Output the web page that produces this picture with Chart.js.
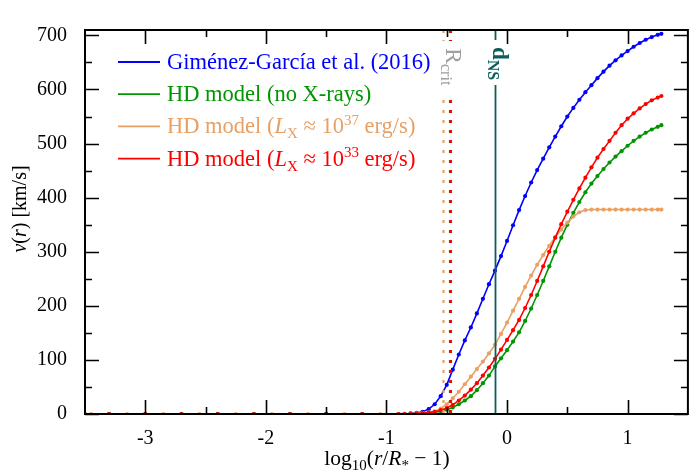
<!DOCTYPE html>
<html>
<head>
<meta charset="utf-8">
<script src="https://cdn.jsdelivr.net/npm/chart.js@4.4.1/dist/chart.umd.min.js"></script>
<style>
  html, body { margin: 0; padding: 0; background: #fff; }
  #wrap { width: 690px; height: 471px; }
</style>
</head>
<body>
<div id="wrap"><canvas id="velChart" width="690" height="471"></canvas></div>
<script>
// --- DATA ---
// x = log10(r/R* - 1), v in km/s
const xGrid = [-0.9, -0.85, -0.8, -0.75, -0.7, -0.65, -0.6, -0.55, -0.5, -0.45,
  -0.4, -0.35, -0.3, -0.25, -0.2, -0.15, -0.1, -0.05, 0, 0.05,
  0.1, 0.15, 0.2, 0.25, 0.3, 0.35, 0.4, 0.45, 0.5, 0.55,
  0.6, 0.65, 0.7, 0.75, 0.8, 0.85, 0.9, 0.95, 1.0, 1.05,
  1.1, 1.15, 1.2, 1.25, 1.28];

const vGimenez = [0, 0.5, 1, 2, 4, 9, 18, 33, 54, 82,
  110, 136, 160, 186, 213, 240, 265, 292, 320, 349,
  377, 403, 428, 451, 472, 493, 513, 532, 550, 566,
  581, 595, 608, 621, 633, 644, 654, 663, 671, 679,
  686, 692, 697, 701, 703];

const vNoXrays = [0, 0, 0.3, 0.6, 1, 2, 3, 5, 8, 12,
  18, 25, 33, 44, 57, 71, 88, 103, 118, 134,
  151, 172, 195, 220, 246, 273, 300, 326, 350, 372,
  392, 410, 426, 440, 453, 465, 476, 486, 496, 505,
  513, 520, 526, 531, 534];

const vLx37 = [0, 0.3, 0.6, 1.2, 2, 3, 5, 10, 18, 29,
  41, 55, 69, 83, 97, 112, 128, 148, 169, 191,
  213, 235, 256, 276, 294, 311, 327, 341, 354, 365,
  373, 377, 378, 378, 378, 378, 378, 378, 378, 378,
  378, 378, 378, 378, 378];

const vLx33 = [0, 0, 0.3, 0.7, 1.5, 2.5, 4, 7, 11, 17,
  25, 34, 45, 57, 71, 86, 102, 119, 137, 155,
  174, 196, 220, 246, 273, 300, 326, 351, 374, 396,
  417, 437, 456, 474, 490, 505, 520, 534, 546, 556,
  565, 573, 580, 585, 588];

// flat part of the profiles, close to the stellar surface
const xFlat = [-3.3, -3.0, -2.7, -2.4, -2.1, -1.8, -1.5, -1.2];
const vFlat = [0, 0, 0, 0, 0, 0, 0, 0];
const xFlatGreen = [-3.5, -3.3, -3.0, -2.7, -2.4, -2.1, -1.8, -1.5, -1.2];
const vFlatGreen = [0, 0, 0, 0, 0, 0, 0, 0, 0];
const xFlatOrange = [-3.5, -3.45, -3.15, -2.85, -2.55, -2.25, -1.95, -1.65, -1.35, -1.05];
const vFlatOrange = [0, 0, 0, 0, 0, 0, 0, 0, 0, 0];

// vertical markers
const rCritLx37 = -0.53;
const rCritLx33 = -0.47;
const dNS = -0.10;

// axes
const xTicks = [-3, -2, -1, 0, 1];
const xMinorTicks = [-2.5, -1.5, -0.5, 0.5];
const yTicks = [0, 100, 200, 300, 400, 500, 600, 700];
const yMinorTicks = [50, 150, 250, 350, 450, 550, 650];

const BLUE = '#0000ff';
const GREEN = '#009600';
const ORANGE = '#e8a064';
const RED = '#ff0000';
const TEAL = '#0e5c5c';
const GREY = '#a0a0a0';
const FONT = '"Liberation Serif", "Times New Roman", serif';

const toPts = (xs, vs) => xs.map((x, i) => ({ x: x, y: vs[i] }));

function series(label, xsFlat, vsFlat, vs, color, order) {
    return {
        label: label,
        data: toPts(xsFlat, vsFlat).concat(toPts(xGrid, vs)),
        borderColor: color,
        backgroundColor: color,
        borderWidth: 1.6,
        pointRadius: 2.1,
        pointBorderWidth: 0,
        pointHoverRadius: 0,
        showLine: true,
        order: order
    };
}

// --- rich text (italic / sub / sup) on the canvas ---
function runFont(r, size) {
    const s = (r.sub || r.sup) ? Math.round(size * 0.68) : size;
    return (r.it ? 'italic ' : '') + (r.bold ? 'bold ' : '') + s + 'px ' + FONT;
}

function drawRich(ctx, runs, x, y, size, color, align) {
    ctx.save();
    ctx.fillStyle = color;
    ctx.textBaseline = 'alphabetic';
    ctx.textAlign = 'left';
    let w = 0;
    runs.forEach(r => { ctx.font = runFont(r, size); w += ctx.measureText(r.t).width; });
    let cx = align === 'center' ? x - w / 2 : x;
    runs.forEach(r => {
        ctx.font = runFont(r, size);
        const dy = r.sub ? size * 0.22 : (r.sup ? -size * 0.38 : 0);
        ctx.fillText(r.t, cx, y + dy);
        cx += ctx.measureText(r.t).width;
    });
    ctx.restore();
}

const legendRows = [
    { color: BLUE, runs: [{ t: 'Giménez-García et al. (2016)' }] },
    { color: GREEN, runs: [{ t: 'HD model (no X-rays)' }] },
    { color: ORANGE, runs: [{ t: 'HD model (' }, { t: 'L', it: true }, { t: 'X', sub: true },
        { t: ' \u2248 10' }, { t: '37', sup: true }, { t: ' erg/s)' }] },
    { color: RED, runs: [{ t: 'HD model (' }, { t: 'L', it: true }, { t: 'X', sub: true },
        { t: ' \u2248 10' }, { t: '33', sup: true }, { t: ' erg/s)' }] }
];

const framePlugin = {
    id: 'frame',
    afterDatasetsDraw(chart) {
        const ctx = chart.ctx;
        const a = chart.chartArea;
        const xs = chart.scales.x;

        // vertical reference lines
        const vline = (xv, color, width, dash) => {
            const px = Math.round(xs.getPixelForValue(xv)) + 0.5;
            ctx.save();
            ctx.strokeStyle = color;
            ctx.lineWidth = width;
            ctx.setLineDash(dash);
            ctx.beginPath();
            ctx.moveTo(px, a.top);
            ctx.lineTo(px, a.bottom);
            ctx.stroke();
            ctx.restore();
        };
        vline(rCritLx37, ORANGE, 2.2, [3, 7]);
        vline(rCritLx33, GREEN, 3.2, [3, 7]);
        vline(rCritLx33, RED, 2.2, [3, 7]);
        vline(dNS, TEAL, 1.8, []);

        // labels on the lines (white box behind, text rotated downwards)
        const rLabelX = xs.getPixelForValue(rCritLx33);
        const dLabelX = xs.getPixelForValue(dNS);
        ctx.save();
        ctx.fillStyle = '#fff';
        ctx.fillRect(rLabelX - 12, a.top + 11, 28, 52);
        ctx.fillRect(dLabelX - 10, a.top + 10, 28, 45);
        ctx.restore();

        ctx.save();
        ctx.translate(rLabelX - 4, a.top + 18);
        ctx.rotate(Math.PI / 2);
        drawRich(ctx, [{ t: 'R' }, { t: 'crit', sub: true }], 0, 0, 24, GREY, 'left');
        ctx.restore();

        ctx.save();
        ctx.translate(dLabelX - 2, a.top + 17);
        ctx.rotate(Math.PI / 2);
        drawRich(ctx, [{ t: 'd', bold: true }, { t: 'NS', sub: true, bold: true }], 0, 0, 23, TEAL, 'left');
        ctx.restore();
    },
    afterDraw(chart) {
        const ctx = chart.ctx;
        const a = chart.chartArea;
        const xs = chart.scales.x;
        const ys = chart.scales.y;

        // frame
        ctx.save();
        ctx.strokeStyle = '#000';
        ctx.lineWidth = 2;
        ctx.strokeRect(a.left, a.top, a.right - a.left, a.bottom - a.top);

        // inward ticks on all four sides
        ctx.lineWidth = 1.6;
        ctx.beginPath();
        const xTick = (v, len) => {
            const px = Math.round(xs.getPixelForValue(v)) + 0.5;
            ctx.moveTo(px, a.bottom); ctx.lineTo(px, a.bottom - len);
            ctx.moveTo(px, a.top); ctx.lineTo(px, a.top + len);
        };
        const yTick = (v, len) => {
            const py = Math.round(ys.getPixelForValue(v)) + 0.5;
            ctx.moveTo(a.left, py); ctx.lineTo(a.left + len, py);
            ctx.moveTo(a.right, py); ctx.lineTo(a.right - len, py);
        };
        xTicks.forEach(v => xTick(v, 14));
        xMinorTicks.forEach(v => xTick(v, 7));
        yTicks.forEach(v => yTick(v, 14));
        yMinorTicks.forEach(v => yTick(v, 7));
        ctx.stroke();
        ctx.restore();

        // legend
        legendRows.forEach((row, i) => {
            const base = a.top + 39 + i * 32.2;
            ctx.save();
            ctx.strokeStyle = row.color;
            ctx.lineWidth = 1.8;
            ctx.beginPath();
            ctx.moveTo(a.left + 33, base - 7);
            ctx.lineTo(a.left + 75, base - 7);
            ctx.stroke();
            ctx.restore();
            drawRich(ctx, row.runs, a.left + 82, base, 22.5, row.color, 'left');
        });

        // axis titles
        drawRich(ctx, [{ t: 'log' }, { t: '10', sub: true }, { t: '(' }, { t: 'r', it: true }, { t: '/' },
            { t: 'R', it: true }, { t: '*', sub: true }, { t: ' \u2212 1)' }], 387, 465, 21.5, '#000', 'center');

        ctx.save();
        ctx.translate(26, 209);
        ctx.rotate(-Math.PI / 2);
        drawRich(ctx, [{ t: 'v', it: true }, { t: '(' }, { t: 'r', it: true }, { t: ') [km/s]' }], 0, 0, 20, '#000', 'center');
        ctx.restore();
    }
};

new Chart(document.getElementById('velChart'), {
    type: 'scatter',
    data: {
        datasets: [
            series('Giménez-García et al. (2016)', xFlat, vFlat, vGimenez, BLUE, 3),
            series('HD model (no X-rays)', xFlatGreen, vFlatGreen, vNoXrays, GREEN, 2),
            series('HD model (LX ≈ 10^37 erg/s)', xFlatOrange, vFlatOrange, vLx37, ORANGE, 1),
            series('HD model (LX ≈ 10^33 erg/s)', xFlat, vFlat, vLx33, RED, 0)
        ]
    },
    options: {
        responsive: false,
        devicePixelRatio: 1,
        animation: false,
        events: [],
        layout: { padding: { top: 13, right: 2, left: 0, bottom: 0 } },
        plugins: { legend: { display: false }, tooltip: { enabled: false } },
        scales: {
            x: {
                type: 'linear',
                min: -3.5,
                max: 1.5,
                afterBuildTicks: s => { s.ticks = xTicks.map(v => ({ value: v })); },
                afterFit: s => { s.height = 57; },
                grid: { display: false, drawTicks: false },
                border: { display: false },
                ticks: { color: '#000', padding: 13, maxRotation: 0, font: { family: FONT, size: 20 } }
            },
            y: {
                type: 'linear',
                min: 0,
                max: 710,
                afterBuildTicks: s => { s.ticks = yTicks.map(v => ({ value: v })); },
                afterFit: s => { s.width = 85; },
                grid: { display: false, drawTicks: false },
                border: { display: false },
                ticks: { color: '#000', padding: 18, font: { family: FONT, size: 20 } }
            }
        }
    },
    plugins: [framePlugin]
});
</script>
</body>
</html>
